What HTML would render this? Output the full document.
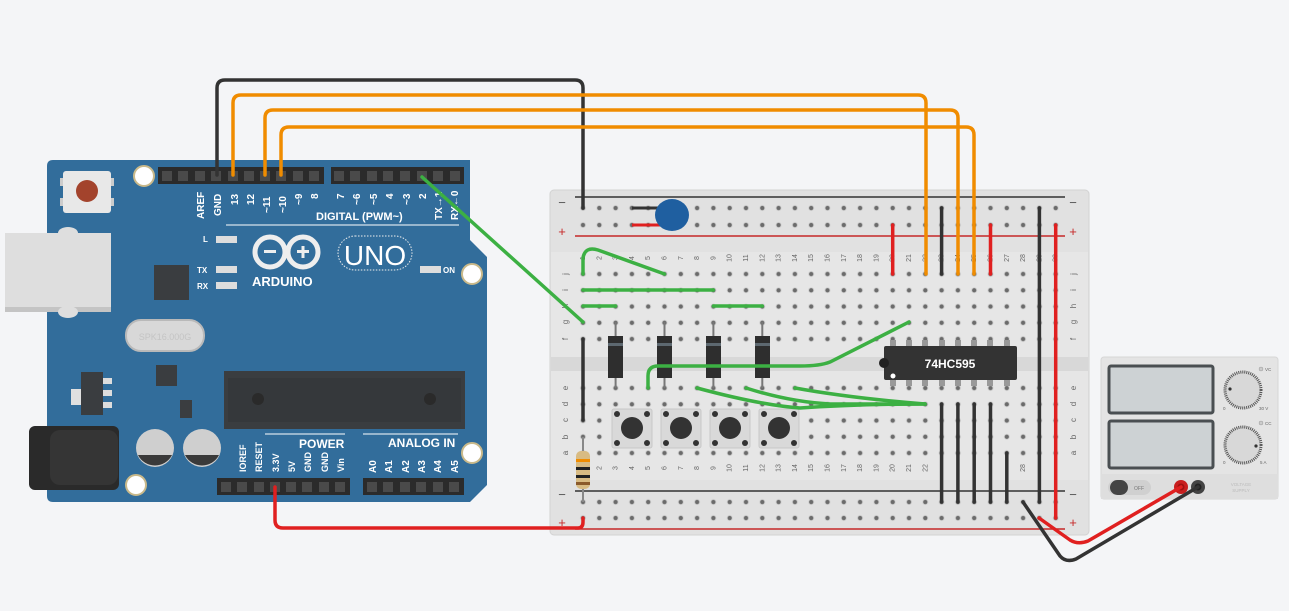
<!DOCTYPE html>
<html><head><meta charset="utf-8"><style>
html,body{margin:0;padding:0;background:#f4f5f7;}
svg{display:block;font-family:"Liberation Sans",sans-serif;}
</style></head><body>
<svg width="1289" height="611" viewBox="0 0 1289 611" xmlns="http://www.w3.org/2000/svg">
<defs>
<pattern id="hm" x="574.85" y="265.9" width="16.3" height="16.25" patternUnits="userSpaceOnUse">
<circle cx="8.15" cy="8.12" r="3" fill="#cfcfcf"/><circle cx="8.15" cy="8.12" r="2.1" fill="#6b6b6b"/>
</pattern>
<pattern id="hl" x="574.85" y="379.9" width="16.3" height="16.25" patternUnits="userSpaceOnUse">
<circle cx="8.15" cy="8.12" r="3" fill="#cfcfcf"/><circle cx="8.15" cy="8.12" r="2.1" fill="#6b6b6b"/>
</pattern>
<pattern id="r1" x="574.85" y="199.9" width="16.3" height="17" patternUnits="userSpaceOnUse"><circle cx="8.15" cy="8.1" r="3" fill="#cfcfcf"/><circle cx="8.15" cy="8.1" r="2.1" fill="#6b6b6b"/></pattern>
<pattern id="r2" x="574.85" y="493.9" width="16.3" height="16" patternUnits="userSpaceOnUse"><circle cx="8.15" cy="8.1" r="3" fill="#cfcfcf"/><circle cx="8.15" cy="8.1" r="2.1" fill="#6b6b6b"/></pattern>
</defs>

<!-- ===== ARDUINO ===== -->
<path d="M47,166 q0,-6 6,-6 L470,160 L470,240 L487,257 L487,485 L470,502 L53,502 q-6,0 -6,-6 Z" fill="#326d9b"/>
<rect x="5" y="233" width="106" height="79" fill="#dedede"/>
<rect x="5" y="307" width="106" height="5" fill="#c4c4c4"/>
<ellipse cx="68" cy="233" rx="10" ry="6" fill="#dedede"/>
<ellipse cx="68" cy="312" rx="10" ry="6" fill="#dedede"/>
<rect x="63" y="171" width="48" height="42" rx="3" fill="#e8e8e8"/>
<rect x="60" y="178" width="3" height="8" fill="#ccc"/><rect x="111" y="178" width="3" height="8" fill="#ccc"/>
<rect x="60" y="198" width="3" height="8" fill="#ccc"/><rect x="111" y="198" width="3" height="8" fill="#ccc"/>
<circle cx="87" cy="191" r="11" fill="#a3432c"/>
<circle cx="144" cy="176" r="10" fill="#fff" stroke="#c9b98a" stroke-width="2"/>
<circle cx="472" cy="274" r="10" fill="#fff" stroke="#c9b98a" stroke-width="2"/>
<circle cx="472" cy="453" r="10" fill="#fff" stroke="#c9b98a" stroke-width="2"/>
<circle cx="136" cy="485" r="10" fill="#fff" stroke="#c9b98a" stroke-width="2"/>
<!-- headers -->
<rect x="158" y="167" width="166" height="17" fill="#2b2b2b"/>
<rect x="331" y="167" width="133" height="17" fill="#2b2b2b"/>
<rect x="217" y="478" width="133" height="17" fill="#2b2b2b"/>
<rect x="363" y="478" width="101" height="17" fill="#2b2b2b"/>
<g fill="#4a4a4a">
<rect x="162" y="171" width="10" height="10"/><rect x="178" y="171" width="10" height="10"/><rect x="195" y="171" width="10" height="10"/><rect x="211" y="171" width="10" height="10"/><rect x="228" y="171" width="10" height="10"/><rect x="244" y="171" width="10" height="10"/><rect x="260" y="171" width="10" height="10"/><rect x="276" y="171" width="10" height="10"/><rect x="293" y="171" width="10" height="10"/><rect x="309" y="171" width="10" height="10"/>
<rect x="334" y="171" width="10" height="10"/><rect x="350" y="171" width="10" height="10"/><rect x="367" y="171" width="10" height="10"/><rect x="383" y="171" width="10" height="10"/><rect x="400" y="171" width="10" height="10"/><rect x="417" y="171" width="10" height="10"/><rect x="433" y="171" width="10" height="10"/><rect x="450" y="171" width="10" height="10"/>
<rect x="221" y="482" width="10" height="10"/><rect x="237" y="482" width="10" height="10"/><rect x="254" y="482" width="10" height="10"/><rect x="270" y="482" width="10" height="10"/><rect x="286" y="482" width="10" height="10"/><rect x="302" y="482" width="10" height="10"/><rect x="319" y="482" width="10" height="10"/><rect x="335" y="482" width="10" height="10"/>
<rect x="367" y="482" width="10" height="10"/><rect x="383" y="482" width="10" height="10"/><rect x="400" y="482" width="10" height="10"/><rect x="416" y="482" width="10" height="10"/><rect x="433" y="482" width="10" height="10"/><rect x="449" y="482" width="10" height="10"/>
</g>
<g fill="#fff" font-size="10" font-weight="bold">
<text transform="rotate(-90 204 219)" x="204" y="219">AREF</text>
<text transform="rotate(-90 221 216)" x="221" y="216">GND</text>
<text transform="rotate(-90 238 205)" x="238" y="205">13</text>
<text transform="rotate(-90 254 205)" x="254" y="205">12</text>
<text transform="rotate(-90 270 213)" x="270" y="213">~11</text>
<text transform="rotate(-90 286 213)" x="286" y="213">~10</text>
<text transform="rotate(-90 302 205)" x="302" y="205">~9</text>
<text transform="rotate(-90 318 199)" x="318" y="199">8</text>
<text transform="rotate(-90 344 199)" x="344" y="199">7</text>
<text transform="rotate(-90 360 205)" x="360" y="205">~6</text>
<text transform="rotate(-90 377 205)" x="377" y="205">~5</text>
<text transform="rotate(-90 393 199)" x="393" y="199">4</text>
<text transform="rotate(-90 410 205)" x="410" y="205">~3</text>
<text transform="rotate(-90 426 199)" x="426" y="199">2</text>
<text transform="rotate(-90 442 220)" x="442" y="220">TX→1</text>
<text transform="rotate(-90 458 220)" x="458" y="220">RX←0</text>
<text x="316" y="220" font-size="11">DIGITAL (PWM~)</text>
<text transform="rotate(-90 246 472)" x="246" y="472" font-size="9">IOREF</text>
<text transform="rotate(-90 262 472)" x="262" y="472" font-size="9">RESET</text>
<text transform="rotate(-90 279 472)" x="279" y="472" font-size="9">3.3V</text>
<text transform="rotate(-90 295 472)" x="295" y="472" font-size="9">5V</text>
<text transform="rotate(-90 311 472)" x="311" y="472" font-size="9">GND</text>
<text transform="rotate(-90 328 472)" x="328" y="472" font-size="9">GND</text>
<text transform="rotate(-90 344 472)" x="344" y="472" font-size="9">Vin</text>
<text transform="rotate(-90 376 473)" x="376" y="473">A0</text>
<text transform="rotate(-90 392 473)" x="392" y="473">A1</text>
<text transform="rotate(-90 409 473)" x="409" y="473">A2</text>
<text transform="rotate(-90 425 473)" x="425" y="473">A3</text>
<text transform="rotate(-90 441 473)" x="441" y="473">A4</text>
<text transform="rotate(-90 458 473)" x="458" y="473">A5</text>
<text x="299" y="448" font-size="12">POWER</text>
<text x="388" y="447" font-size="12">ANALOG IN</text>
<text x="203" y="242" font-size="8">L</text>
<text x="197" y="273" font-size="8">TX</text>
<text x="197" y="289" font-size="8">RX</text>
<text x="443" y="273" font-size="8">ON</text>
<text x="252" y="286" font-size="13">ARDUINO</text>
</g>
<line x1="226" y1="225" x2="459" y2="225" stroke="#fff" stroke-width="1"/>
<line x1="265" y1="434" x2="345" y2="434" stroke="#fff"/>
<line x1="363" y1="434" x2="458" y2="434" stroke="#fff"/>
<rect x="216" y="236" width="21" height="7" fill="#ddd"/>
<rect x="216" y="266" width="21" height="7" fill="#ddd"/>
<rect x="216" y="282" width="21" height="7" fill="#ddd"/>
<rect x="420" y="266" width="21" height="7" fill="#ddd"/>
<g fill="none" stroke="#eee" stroke-width="5">
<circle cx="270" cy="252" r="15"/><circle cx="303" cy="252" r="15"/>
</g>
<rect x="264" y="250" width="12" height="3" fill="#eee"/>
<rect x="297" y="250" width="12" height="3" fill="#eee"/><rect x="301.5" y="246" width="3" height="12" fill="#eee"/>
<rect x="338" y="236" width="74" height="34" rx="17" fill="none" stroke="#eee" stroke-dasharray="1.5 1.5"/>
<text x="375" y="265" fill="#fff" font-size="28" text-anchor="middle">UNO</text>
<rect x="154" y="265" width="35" height="35" fill="#3a3d40"/>
<rect x="126" y="320" width="78" height="31" rx="15" fill="#d8d8d8" stroke="#b9b9b9" stroke-width="2"/>
<text x="165" y="340" font-size="9" fill="#c4c4c4" text-anchor="middle">SPK16.000G</text>
<rect x="156" y="365" width="21" height="21" fill="#3a3d40"/>
<rect x="71" y="389" width="10" height="16" fill="#e0e0e0"/>
<rect x="81" y="372" width="22" height="43" fill="#3a3d40"/>
<rect x="103" y="378" width="9" height="6" fill="#ddd"/><rect x="103" y="390" width="9" height="6" fill="#ddd"/><rect x="103" y="402" width="9" height="6" fill="#ddd"/>
<rect x="180" y="400" width="12" height="18" fill="#3a3d40"/>
<rect x="29" y="426" width="90" height="64" rx="6" fill="#2a2a2a"/>
<rect x="50" y="430" width="68" height="55" rx="10" fill="#353535"/>
<circle cx="155" cy="448" r="19" fill="#cfcfcf"/><path d="M138,455 A19,19 0 0 0 172,455 Z" fill="#3a3a3a"/>
<circle cx="202" cy="448" r="19" fill="#cfcfcf"/><path d="M185,455 A19,19 0 0 0 219,455 Z" fill="#3a3a3a"/>
<rect x="224" y="371" width="241" height="58" fill="#3a3d40"/>
<rect x="228" y="378" width="233" height="44" fill="#35383b"/>
<circle cx="258" cy="399" r="6" fill="#2a2a2a"/><circle cx="430" cy="399" r="6" fill="#2a2a2a"/>

<!-- ===== BREADBOARD ===== -->
<rect x="550" y="190" width="539" height="345" rx="4" fill="#e1e1e1" stroke="#d2d2d2"/>
<rect x="551" y="252" width="537" height="228" fill="#e6e6e6"/>
<rect x="551" y="357" width="537" height="14" fill="#d8d8d8"/>
<line x1="575" y1="197" x2="1065" y2="197" stroke="#333" stroke-width="1.5"/>
<line x1="575" y1="236" x2="1065" y2="236" stroke="#c62828" stroke-width="1.5"/>
<line x1="575" y1="491" x2="1065" y2="491" stroke="#333" stroke-width="1.5"/>
<line x1="575" y1="529" x2="1065" y2="529" stroke="#c62828" stroke-width="1.5"/>
<g font-size="13" fill="#555" text-anchor="middle">
<text x="562" y="207">−</text><text x="1073" y="207">−</text>
<text x="562" y="236" fill="#c62828">+</text><text x="1073" y="236" fill="#c62828">+</text>
<text x="562" y="499">−</text><text x="1073" y="499">−</text>
<text x="562" y="527" fill="#c62828">+</text><text x="1073" y="527" fill="#c62828">+</text>
</g>
<rect x="574.85" y="199.9" width="489" height="34" fill="url(#r1)"/>
<rect x="574.85" y="265.9" width="489" height="81.25" fill="url(#hm)"/>
<rect x="574.85" y="379.9" width="489" height="81.25" fill="url(#hl)"/>
<rect x="574.85" y="493.9" width="489" height="32" fill="url(#r2)"/>
<g font-size="8" fill="#666" text-anchor="middle">
<text transform="rotate(-90 565 274)" x="565" y="277">j</text><text transform="rotate(-90 565 290)" x="565" y="293">i</text><text transform="rotate(-90 565 306)" x="565" y="309">h</text><text transform="rotate(-90 565 322)" x="565" y="325">g</text><text transform="rotate(-90 565 339)" x="565" y="342">f</text>
<text transform="rotate(-90 565 388)" x="565" y="391">e</text><text transform="rotate(-90 565 404)" x="565" y="407">d</text><text transform="rotate(-90 565 420)" x="565" y="423">c</text><text transform="rotate(-90 565 437)" x="565" y="440">b</text><text transform="rotate(-90 565 453)" x="565" y="456">a</text>
<text transform="rotate(-90 1073 274)" x="1073" y="277">j</text><text transform="rotate(-90 1073 290)" x="1073" y="293">i</text><text transform="rotate(-90 1073 306)" x="1073" y="309">h</text><text transform="rotate(-90 1073 322)" x="1073" y="325">g</text><text transform="rotate(-90 1073 339)" x="1073" y="342">f</text>
<text transform="rotate(-90 1073 388)" x="1073" y="391">e</text><text transform="rotate(-90 1073 404)" x="1073" y="407">d</text><text transform="rotate(-90 1073 420)" x="1073" y="423">c</text><text transform="rotate(-90 1073 437)" x="1073" y="440">b</text><text transform="rotate(-90 1073 453)" x="1073" y="456">a</text>
</g>
<g font-size="7" fill="#666" text-anchor="middle">
<text transform="rotate(-90 583 258)" x="583" y="260">1</text><text transform="rotate(-90 599.3 258)" x="599.3" y="260">2</text><text transform="rotate(-90 615.6 258)" x="615.6" y="260">3</text><text transform="rotate(-90 631.9 258)" x="631.9" y="260">4</text><text transform="rotate(-90 648.2 258)" x="648.2" y="260">5</text><text transform="rotate(-90 664.5 258)" x="664.5" y="260">6</text><text transform="rotate(-90 680.8 258)" x="680.8" y="260">7</text><text transform="rotate(-90 697.1 258)" x="697.1" y="260">8</text><text transform="rotate(-90 713.4 258)" x="713.4" y="260">9</text><text transform="rotate(-90 729.7 258)" x="729.7" y="260">10</text><text transform="rotate(-90 746 258)" x="746" y="260">11</text><text transform="rotate(-90 762.3 258)" x="762.3" y="260">12</text><text transform="rotate(-90 778.6 258)" x="778.6" y="260">13</text><text transform="rotate(-90 794.9 258)" x="794.9" y="260">14</text><text transform="rotate(-90 811.2 258)" x="811.2" y="260">15</text><text transform="rotate(-90 827.5 258)" x="827.5" y="260">16</text><text transform="rotate(-90 843.8 258)" x="843.8" y="260">17</text><text transform="rotate(-90 860.1 258)" x="860.1" y="260">18</text><text transform="rotate(-90 876.4 258)" x="876.4" y="260">19</text><text transform="rotate(-90 892.7 258)" x="892.7" y="260">20</text><text transform="rotate(-90 909 258)" x="909" y="260">21</text><text transform="rotate(-90 925.3 258)" x="925.3" y="260">22</text><text transform="rotate(-90 941.6 258)" x="941.6" y="260">23</text><text transform="rotate(-90 957.9 258)" x="957.9" y="260">24</text><text transform="rotate(-90 974.2 258)" x="974.2" y="260">25</text><text transform="rotate(-90 990.5 258)" x="990.5" y="260">26</text><text transform="rotate(-90 1006.8 258)" x="1006.8" y="260">27</text><text transform="rotate(-90 1023.1 258)" x="1023.1" y="260">28</text><text transform="rotate(-90 1039.4 258)" x="1039.4" y="260">29</text><text transform="rotate(-90 1055.7 258)" x="1055.7" y="260">30</text>
<text transform="rotate(-90 599.3 468)" x="599.3" y="470">2</text><text transform="rotate(-90 615.6 468)" x="615.6" y="470">3</text><text transform="rotate(-90 631.9 468)" x="631.9" y="470">4</text><text transform="rotate(-90 648.2 468)" x="648.2" y="470">5</text><text transform="rotate(-90 664.5 468)" x="664.5" y="470">6</text><text transform="rotate(-90 680.8 468)" x="680.8" y="470">7</text><text transform="rotate(-90 697.1 468)" x="697.1" y="470">8</text><text transform="rotate(-90 713.4 468)" x="713.4" y="470">9</text><text transform="rotate(-90 729.7 468)" x="729.7" y="470">10</text><text transform="rotate(-90 746 468)" x="746" y="470">11</text><text transform="rotate(-90 762.3 468)" x="762.3" y="470">12</text><text transform="rotate(-90 778.6 468)" x="778.6" y="470">13</text><text transform="rotate(-90 794.9 468)" x="794.9" y="470">14</text><text transform="rotate(-90 811.2 468)" x="811.2" y="470">15</text><text transform="rotate(-90 827.5 468)" x="827.5" y="470">16</text><text transform="rotate(-90 843.8 468)" x="843.8" y="470">17</text><text transform="rotate(-90 860.1 468)" x="860.1" y="470">18</text><text transform="rotate(-90 876.4 468)" x="876.4" y="470">19</text><text transform="rotate(-90 892.7 468)" x="892.7" y="470">20</text><text transform="rotate(-90 909 468)" x="909" y="470">21</text><text transform="rotate(-90 925.3 468)" x="925.3" y="470">22</text><text transform="rotate(-90 1023.1 468)" x="1023.1" y="470">28</text>
</g>

<!-- capacitor -->
<line x1="632" y1="208" x2="660" y2="208" stroke="#333" stroke-width="3"/>
<line x1="632" y1="225" x2="660" y2="225" stroke="#e02020" stroke-width="3"/>
<ellipse cx="672" cy="215" rx="17" ry="16" fill="#1f5fa0"/>

<!-- diodes -->
<g stroke="#777" stroke-width="2">
<line x1="615.6" y1="322" x2="615.6" y2="388"/><line x1="664.5" y1="322" x2="664.5" y2="388"/><line x1="713.4" y1="322" x2="713.4" y2="388"/><line x1="762.3" y1="322" x2="762.3" y2="388"/>
</g>
<g fill="#2e2e2e">
<rect x="608" y="336" width="15" height="42"/><rect x="657" y="336" width="15" height="42"/><rect x="706" y="336" width="15" height="42"/><rect x="755" y="336" width="15" height="42"/>
</g>
<g fill="#5d6870">
<rect x="608" y="343" width="15" height="3"/><rect x="657" y="343" width="15" height="3"/><rect x="706" y="343" width="15" height="3"/><rect x="755" y="343" width="15" height="3"/>
</g>

<!-- buttons -->
<rect x="612" y="409" width="40" height="39" rx="2" fill="#d9d9d9" stroke="#c8c8c8"/>
<rect x="661" y="409" width="40" height="39" rx="2" fill="#d9d9d9" stroke="#c8c8c8"/>
<rect x="710" y="409" width="40" height="39" rx="2" fill="#d9d9d9" stroke="#c8c8c8"/>
<rect x="759" y="409" width="40" height="39" rx="2" fill="#d9d9d9" stroke="#c8c8c8"/>
<g fill="#333">
<circle cx="632" cy="428" r="11"/><circle cx="681" cy="428" r="11"/><circle cx="730" cy="428" r="11"/><circle cx="779" cy="428" r="11"/>
<circle cx="617" cy="414" r="3"/><circle cx="647" cy="414" r="3"/><circle cx="617" cy="443" r="3"/><circle cx="647" cy="443" r="3"/>
<circle cx="666" cy="414" r="3"/><circle cx="696" cy="414" r="3"/><circle cx="666" cy="443" r="3"/><circle cx="696" cy="443" r="3"/>
<circle cx="715" cy="414" r="3"/><circle cx="745" cy="414" r="3"/><circle cx="715" cy="443" r="3"/><circle cx="745" cy="443" r="3"/>
<circle cx="764" cy="414" r="3"/><circle cx="794" cy="414" r="3"/><circle cx="764" cy="443" r="3"/><circle cx="794" cy="443" r="3"/>
</g>

<!-- IC -->
<g fill="#999">
<rect x="890" y="340" width="6" height="8"/><rect x="906" y="340" width="6" height="8"/><rect x="922" y="340" width="6" height="8"/><rect x="939" y="340" width="6" height="8"/><rect x="955" y="340" width="6" height="8"/><rect x="971" y="340" width="6" height="8"/><rect x="987" y="340" width="6" height="8"/><rect x="1004" y="340" width="6" height="8"/>
<rect x="890" y="378" width="6" height="8"/><rect x="906" y="378" width="6" height="8"/><rect x="922" y="378" width="6" height="8"/><rect x="939" y="378" width="6" height="8"/><rect x="955" y="378" width="6" height="8"/><rect x="971" y="378" width="6" height="8"/><rect x="987" y="378" width="6" height="8"/><rect x="1004" y="378" width="6" height="8"/>
</g>
<rect x="884" y="346" width="133" height="34" rx="2" fill="#333"/>
<circle cx="884" cy="363" r="5" fill="#222"/>
<circle cx="893" cy="376" r="2.5" fill="#fff"/>
<text x="950" y="368" font-size="12" font-weight="bold" fill="#fff" text-anchor="middle">74HC595</text>

<!-- resistor -->
<line x1="583" y1="437" x2="583" y2="502" stroke="#888" stroke-width="2"/>
<rect x="576" y="451" width="14" height="38" rx="5" fill="#d8bb83"/>
<rect x="576" y="459" width="14" height="3" fill="#f08c00"/>
<rect x="576" y="467" width="14" height="3" fill="#222"/>
<rect x="576" y="475" width="14" height="3" fill="#222"/>
<rect x="576" y="482" width="14" height="3" fill="#8a5a2b"/>

<!-- breadboard wires -->
<g fill="none" stroke-linecap="round" stroke-width="3.5">
<path d="M583,274 L583,258 Q585,246 598,250 L664.5,274" stroke="#3cb043"/>
<path d="M583,290 L713.4,290" stroke="#3cb043"/>
<path d="M583,306 L615.6,306 M713.4,306 L762.3,306" stroke="#3cb043"/>
<path d="M909,322 L830,362 Q820,366 800,366 L658,366 Q648,366 648,376 L648,388" stroke="#3cb043"/>
<path d="M697,388 Q760,405 800,408 Q860,404 925,404" stroke="#3cb043"/>
<path d="M746,388 Q790,402 830,404 L925,404" stroke="#3cb043"/>
<path d="M795,388 Q850,398 925,404" stroke="#3cb043"/>
<path d="M583,339 L583,420" stroke="#333"/>
<path d="M941.6,208 L941.6,274" stroke="#333"/>
<path d="M1039.4,208 L1039.4,502" stroke="#333"/>
<path d="M941.6,404 L941.6,502 M957.9,404 L957.9,502 M974.2,404 L974.2,502 M990.5,404 L990.5,502 M1006.8,453 L1006.8,502" stroke="#333"/>
<path d="M892.7,225 L892.7,274 M990.5,225 L990.5,274" stroke="#e02020"/>
<path d="M1055.7,225 L1055.7,518" stroke="#e02020"/>
</g>

<!-- ===== POWER SUPPLY ===== -->
<rect x="1101" y="357" width="177" height="142" rx="3" fill="#e4e4e4" stroke="#d6d6d6"/>
<rect x="1101" y="474" width="177" height="25" fill="#dedede"/>
<rect x="1109" y="366" width="104" height="47" rx="2" fill="#cdd2d4" stroke="#4a4f52" stroke-width="3"/>
<rect x="1109" y="421" width="104" height="47" rx="2" fill="#cdd2d4" stroke="#4a4f52" stroke-width="3"/>
<circle cx="1243" cy="390" r="18" fill="#d8d8d8" stroke="#555" stroke-width="3" stroke-dasharray="1 1"/>
<circle cx="1243" cy="445" r="18" fill="#d8d8d8" stroke="#555" stroke-width="3" stroke-dasharray="1 1"/>
<circle cx="1230" cy="389" r="1.6" fill="#333"/><circle cx="1256" cy="446" r="1.6" fill="#333"/>
<g font-size="4.5" fill="#666"><text x="1223" y="410">0</text><text x="1259" y="410">30 V</text><text x="1223" y="464">0</text><text x="1260" y="464">5 A</text><text x="1265" y="371">VC</text><text x="1265" y="425">CC</text></g>
<circle cx="1261" cy="369" r="2" fill="#ccc" stroke="#999" stroke-width=".5"/><circle cx="1261" cy="423" r="2" fill="#ccc" stroke="#999" stroke-width=".5"/>
<rect x="1108" y="480" width="43" height="15" rx="7.5" fill="#d0d0d0"/>
<rect x="1110" y="480" width="18" height="15" rx="7.5" fill="#444"/>
<text x="1134" y="490" font-size="5" fill="#777">OFF</text>
<text x="1241" y="486" font-size="4.5" fill="#bbb" text-anchor="middle">VOLTAGE</text><text x="1241" y="492" font-size="4.5" fill="#bbb" text-anchor="middle">SUPPLY</text>
<circle cx="1181" cy="487" r="7" fill="#c81e1e"/><circle cx="1181" cy="487" r="3.5" fill="#a01010"/>
<circle cx="1198" cy="487" r="7" fill="#444"/><circle cx="1198" cy="487" r="3.5" fill="#222"/>

<!-- ===== LONG WIRES ===== -->
<g fill="none" stroke-linecap="round" stroke-width="3.5" stroke-linejoin="round">
<path d="M217,175 L217,88 Q217,80 225,80 L575,80 Q583,80 583,88 L583,208" stroke="#333"/>
<path d="M233,175 L233,103 Q233,95 241,95 L918,95 Q926,95 926,103 L926,274" stroke="#f08c00"/>
<path d="M265,175 L265,118 Q265,110 273,110 L950,110 Q958,110 958,118 L958,274" stroke="#f08c00"/>
<path d="M281,175 L281,135 Q281,127 289,127 L966,127 Q974,127 974,135 L974,274" stroke="#f08c00"/>
<path d="M422,177 L583,322" stroke="#3cb043"/>
<path d="M275,487 L275,520 Q275,528 283,528 L578,528 Q583,528 583,522 L583,518" stroke="#e02020"/>
<path d="M1023,502 L1060,556 Q1066,563 1076,559 L1198,487" stroke="#333"/>
<path d="M1039,518 L1070,540 Q1078,545 1088,541 L1181,487" stroke="#e02020"/>
</g>
</svg>
</body></html>
